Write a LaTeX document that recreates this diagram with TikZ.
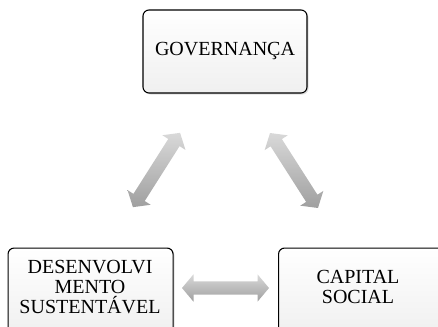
\documentclass[tikz,border=0pt]{standalone}
\usepackage{fontspec}
\setmainfont{Liberation Serif}
\usetikzlibrary{shapes.arrows,shadows}
\tikzset{
  box/.style={draw=black, line width=1.1pt, rounded corners=6pt,
    top color=white, bottom color=gray!12, align=center,
    font=\fontsize{20}{20}\selectfont, inner sep=0pt,
    drop shadow={shadow xshift=1.5pt, shadow yshift=-1.5pt, opacity=0.25}},
  dblarrow/.style={shape=double arrow, inner xsep=0pt, inner ysep=6.5pt,
    text height=0pt, text depth=0pt, text width=0pt,
    double arrow head extend=7pt, double arrow tip angle=100,
    top color=gray!30, bottom color=gray!75, draw=none}
}
\begin{document}
\begin{tikzpicture}[x=1pt,y=-1pt]
\useasboundingbox (0,0) rectangle (438,326);
\clip (0,0) rectangle (438,326);
\node[box, minimum width=164pt, minimum height=83pt] (gov) at (225,51.5) {GOVERNANÇA};
\node[box, minimum width=165pt, minimum height=86pt, anchor=north west] (des) at (7.5,247.5) {};
\node[box, minimum width=170pt, minimum height=86pt, anchor=north west] (cap) at (278,247.5) {};
\node[align=center, font=\fontsize{20}{20}\selectfont] (dest) at (90,287) {DESENVOLVI\\MENTO\\SUSTENTÁVEL};
\node[align=center, font=\fontsize{20}{20}\selectfont] (capt) at (358,287) {CAPITAL\\SOCIAL};
\node[dblarrow, minimum height=88pt, rotate=57.6] (a1) at (156.5,170) {};
\node[dblarrow, minimum height=89pt, rotate=-57.4] (a2) at (294,170.5) {};
\node[dblarrow, minimum height=87pt] (a3) at (225.5,288) {};
\end{tikzpicture}
\end{document}
